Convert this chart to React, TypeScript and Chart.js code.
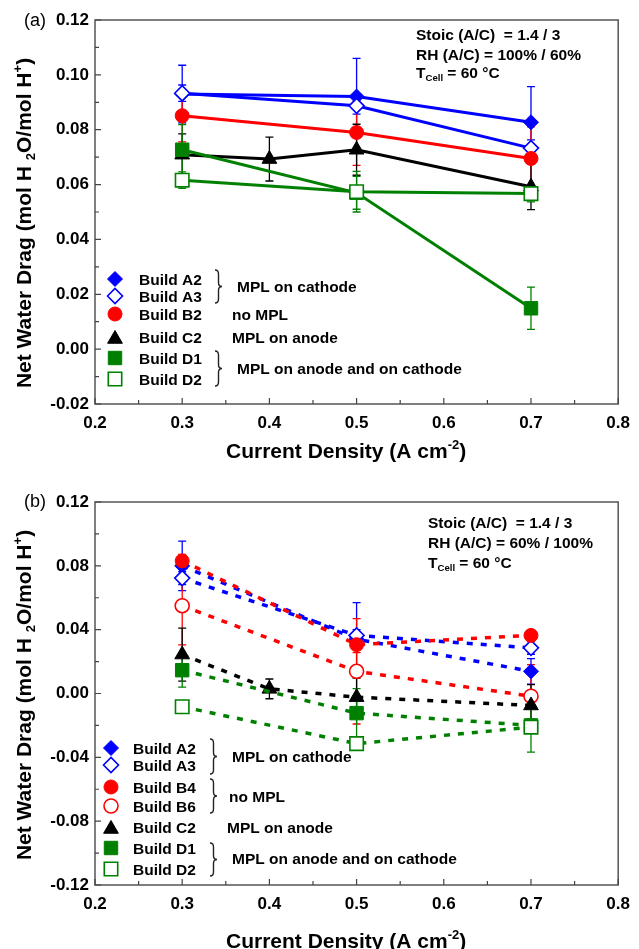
import React, { useEffect, useRef } from "react";
import { Chart, registerables } from "chart.js";
import { drawPoint } from "chart.js/helpers";

Chart.register(...registerables);

const FONT = '"Liberation Sans", Arial, Helvetica, sans-serif';

// ---------------- data: panel (a) ----------------
const xs3 = [0.3, 0.5, 0.7];
const xs4 = [0.3, 0.4, 0.5, 0.7];

const aA2 = [0.093, 0.0921, 0.0827];
const aA2Err = [0.0105, 0.0139, 0.013];
const aA3 = [0.0933, 0.0887, 0.0733];
const aA3Err = [0.003, 0.003, 0.003];
const aB2 = [0.0851, 0.079, 0.0695];
const aB2Err = [0.0095, 0.012, 0.0115];
const aC2 = [0.0709, 0.0693, 0.0727, 0.0592];
const aC2Err = [0.0076, 0.008, 0.0093, 0.0083];
const aD1 = [0.0727, 0.057, 0.0149];
const aD1Err = [0.0092, 0.006, 0.0077];
const aD2 = [0.0616, 0.0574, 0.0567];
const aD2Err = [0.003, 0.0074, 0.003];

// ---------------- data: panel (b) ----------------
const bA2 = [0.08, 0.034, 0.0139];
const bA2Err = [0.0155, 0.006, 0.008];
const bA3 = [0.0723, 0.0364, 0.0286];
const bA3Err = [0.004, 0.0206, 0.004];
const bB4 = [0.0831, 0.0306, 0.0364];
const bB4Err = [0.004, 0.005, 0.003];
const bB6 = [0.055, 0.0139, -0.0017];
const bB6Err = [0.0245, 0.033, 0.0198];
const bC2 = [0.0244, 0.0029, -0.0023, -0.0075];
const bC2Err = [0.0166, 0.0062, 0.012, 0.013];
const bD1 = [0.0146, -0.0123, -0.02];
const bD1Err = [0.0106, 0.0154, 0.004];
const bD2 = [-0.0083, -0.0314, -0.0211];
const bD2Err = [0.003, 0.003, 0.0156];

// axis ranges / ticks
const xRange = [0.2, 0.8];
const xStep = 0.1;
const aYRange = [-0.02, 0.12];
const aYStep = 0.02;
const bYRange = [-0.12, 0.12];
const bYStep = 0.04;

const BLUE = "#0000ff";
const RED = "#ff0000";
const BLACK = "#000000";
const GREEN = "#008000";

type Series = {
  label: string;
  xs: number[];
  ys: number[];
  errs: number[];
  color: string;
  style: string;
  radius: number;
  filled: boolean;
};

const mk = (label: string, xs: number[], ys: number[], errs: number[], color: string, style: string, radius: number, filled: boolean): Series =>
  ({ label, xs, ys, errs, color, style, radius, filled });

const R_DIAMOND = 7.5;
const R_CIRCLE = 7;
const R_TRI = 8.5;
const R_SQUARE = 9.5;

const seriesA: Series[] = [
  mk("Build A2", xs3, aA2, aA2Err, BLUE, "rectRot", R_DIAMOND, true),
  mk("Build A3", xs3, aA3, aA3Err, BLUE, "rectRot", R_DIAMOND, false),
  mk("Build B2", xs3, aB2, aB2Err, RED, "circle", R_CIRCLE, true),
  mk("Build C2", xs4, aC2, aC2Err, BLACK, "triangle", R_TRI, true),
  mk("Build D1", xs3, aD1, aD1Err, GREEN, "rect", R_SQUARE, true),
  mk("Build D2", xs3, aD2, aD2Err, GREEN, "rect", R_SQUARE, false),
];

const seriesB: Series[] = [
  mk("Build A2", xs3, bA2, bA2Err, BLUE, "rectRot", R_DIAMOND, true),
  mk("Build A3", xs3, bA3, bA3Err, BLUE, "rectRot", R_DIAMOND, false),
  mk("Build B4", xs3, bB4, bB4Err, RED, "circle", R_CIRCLE, true),
  mk("Build B6", xs3, bB6, bB6Err, RED, "circle", R_CIRCLE, false),
  mk("Build C2", xs4, bC2, bC2Err, BLACK, "triangle", R_TRI, true),
  mk("Build D1", xs3, bD1, bD1Err, GREEN, "rect", R_SQUARE, true),
  mk("Build D2", xs3, bD2, bD2Err, GREEN, "rect", R_SQUARE, false),
];

type Seg = { t: string; k?: "sub" | "sup" };

type Panel = {
  series: Series[];
  yRange: number[];
  yStep: number;
  height: number;
  padTop: number;
  xHeight: number;
  dash: number[];
  lineWidth: number;
  panelLabel: string;
  labelPos: number[];
  annot: { x: number; ys: number[]; lines: Seg[][] };
  legend: { mx: number; tx: number; rows: number[] };
  braces: number[][];
  groups: { t: string; x: number; y: number }[];
  yTitle: number[];
  xTitle: number[];
};

const yTitleSegs: Seg[] = [
  { t: "Net Water Drag (mol H " },
  { t: "2", k: "sub" },
  { t: "O/mol H" },
  { t: "+", k: "sup" },
  { t: ")" },
];
const xTitleSegs: Seg[] = [{ t: "Current Density (A cm" }, { t: "-2", k: "sup" }, { t: ")" }];

const tcell: Seg[] = [{ t: "T" }, { t: "Cell", k: "sub" }, { t: " = 60 \u00B0C" }];

const panelA: Panel = {
  series: seriesA,
  yRange: aYRange,
  yStep: aYStep,
  height: 470,
  padTop: 20,
  xHeight: 66,
  dash: [],
  lineWidth: 3,
  panelLabel: "(a)",
  labelPos: [24, 21],
  annot: {
    x: 416,
    ys: [34, 54, 72],
    lines: [[{ t: "Stoic (A/C)  = 1.4 / 3" }], [{ t: "RH (A/C) = 100% / 60%" }], tcell],
  },
  legend: { mx: 115, tx: 139, rows: [279, 296, 314, 337, 358, 379] },
  braces: [
    [215, 270, 303],
    [215, 351, 386],
  ],
  groups: [
    { t: "MPL on cathode", x: 237, y: 286 },
    { t: "no MPL", x: 232, y: 314 },
    { t: "MPL on anode", x: 232, y: 337 },
    { t: "MPL on anode and on cathode", x: 237, y: 368 },
  ],
  yTitle: [23, 223],
  xTitle: [226, 450],
};

const panelB: Panel = {
  series: seriesB,
  yRange: bYRange,
  yStep: bYStep,
  height: 479,
  padTop: 32,
  xHeight: 64,
  dash: [6, 8],
  lineWidth: 3.5,
  panelLabel: "(b)",
  labelPos: [24, 32],
  annot: {
    x: 428,
    ys: [52, 72, 92],
    lines: [[{ t: "Stoic (A/C)  = 1.4 / 3" }], [{ t: "RH (A/C) = 60% / 100%" }], tcell],
  },
  legend: { mx: 111, tx: 133, rows: [278, 295, 317, 336, 357, 378, 399] },
  braces: [
    [210, 269, 304],
    [210, 309, 343],
    [210, 373, 406],
  ],
  groups: [
    { t: "MPL on cathode", x: 232, y: 286 },
    { t: "no MPL", x: 229, y: 326 },
    { t: "MPL on anode", x: 227, y: 357 },
    { t: "MPL on anode and on cathode", x: 232, y: 388 },
  ],
  yTitle: [23, 225],
  xTitle: [226, 470],
};

function segFont(size: number, weight: string, k?: string) {
  const fs = k ? size * 0.62 : size;
  return `${weight} ${fs}px ${FONT}`;
}

function richWidth(ctx: CanvasRenderingContext2D, segs: Seg[], size: number, weight: string) {
  let w = 0;
  for (const s of segs) {
    ctx.font = segFont(size, weight, s.k);
    w += ctx.measureText(s.t).width;
  }
  return w;
}

function drawRich(ctx: CanvasRenderingContext2D, segs: Seg[], x: number, base: number, size: number, weight: string, align: "left" | "center") {
  const w = richWidth(ctx, segs, size, weight);
  let cx = align === "center" ? x - w / 2 : x;
  ctx.textAlign = "left";
  ctx.textBaseline = "alphabetic";
  for (const s of segs) {
    ctx.font = segFont(size, weight, s.k);
    const dy = s.k === "sub" ? size * 0.2 : s.k === "sup" ? -size * 0.42 : 0;
    ctx.fillText(s.t, cx, base + dy);
    cx += ctx.measureText(s.t).width;
  }
}

function drawBrace(ctx: CanvasRenderingContext2D, x: number, y1: number, y2: number) {
  const w = 7;
  const h = w * 0.5;
  const m = (y1 + y2) / 2;
  const r = 4;
  ctx.beginPath();
  ctx.moveTo(x, y1);
  ctx.quadraticCurveTo(x + h, y1, x + h, y1 + r);
  ctx.lineTo(x + h, m - r);
  ctx.quadraticCurveTo(x + h, m, x + w, m);
  ctx.quadraticCurveTo(x + h, m, x + h, m + r);
  ctx.lineTo(x + h, y2 - r);
  ctx.quadraticCurveTo(x + h, y2, x, y2);
  ctx.stroke();
}

function makeChart(canvas: HTMLCanvasElement, P: Panel) {
  const N = P.series.length;
  const datasets = P.series.map((s, i) => ({
    label: s.label,
    data: s.xs.map((x, j) => ({ x, y: s.ys[j] })),
    showLine: true,
    borderColor: s.color,
    backgroundColor: s.color,
    borderWidth: P.lineWidth,
    borderDash: P.dash,
    borderCapStyle: "butt",
    pointStyle: s.style,
    pointRadius: s.radius,
    pointHoverRadius: s.radius,
    pointBackgroundColor: s.filled ? s.color : "#ffffff",
    pointBorderColor: s.color,
    pointBorderWidth: s.filled ? 1 : 1.6,
    tension: 0,
    order: N - i,
    clip: false,
  }));

  const errPlugin = {
    id: "errBars",
    beforeDatasetsDraw(chart: any) {
      const { ctx, scales } = chart;
      const xs = scales.x;
      const ys = scales.y;
      ctx.save();
      ctx.setLineDash([]);
      ctx.lineWidth = 1.3;
      P.series.forEach((s) => {
        ctx.strokeStyle = s.color;
        s.xs.forEach((xv, j) => {
          const e = s.errs[j];
          if (!e) return;
          const px = xs.getPixelForValue(xv);
          const yt = ys.getPixelForValue(s.ys[j] + e);
          const yb = ys.getPixelForValue(s.ys[j] - e);
          ctx.beginPath();
          ctx.moveTo(px, yt);
          ctx.lineTo(px, yb);
          ctx.moveTo(px - 4, yt);
          ctx.lineTo(px + 4, yt);
          ctx.moveTo(px - 4, yb);
          ctx.lineTo(px + 4, yb);
          ctx.stroke();
        });
      });
      ctx.restore();
    },
  };

  const framePlugin = {
    id: "frame",
    afterDatasetsDraw(chart: any) {
      const { ctx, chartArea: a, scales } = chart;
      const xs = scales.x;
      const ys = scales.y;
      ctx.save();
      ctx.setLineDash([]);
      ctx.strokeStyle = "#555555";
      ctx.lineWidth = 1.5;
      ctx.strokeRect(a.left, a.top, a.right - a.left, a.bottom - a.top);
      ctx.lineWidth = 1.2;
      ctx.strokeStyle = "#444444";
      ctx.beginPath();
      const nY = Math.round((P.yRange[1] - P.yRange[0]) / P.yStep);
      for (let i = 0; i <= nY * 2; i++) {
        const v = P.yRange[0] + (i * P.yStep) / 2;
        const py = ys.getPixelForValue(v);
        const len = i % 2 === 0 ? 6 : 4;
        ctx.moveTo(a.left, py);
        ctx.lineTo(a.left + len, py);
      }
      const nX = Math.round((xRange[1] - xRange[0]) / xStep);
      for (let i = 0; i <= nX * 2; i++) {
        const v = xRange[0] + (i * xStep) / 2;
        const px = xs.getPixelForValue(v);
        const len = i % 2 === 0 ? 6 : 4;
        ctx.moveTo(px, a.bottom);
        ctx.lineTo(px, a.bottom - len);
      }
      ctx.stroke();
      ctx.restore();
    },
  };

  const textPlugin = {
    id: "texts",
    afterDraw(chart: any) {
      const ctx: CanvasRenderingContext2D = chart.ctx;
      ctx.save();
      ctx.fillStyle = "#000";
      ctx.setLineDash([]);

      // panel label
      ctx.font = `normal 18px ${FONT}`;
      ctx.textAlign = "left";
      ctx.textBaseline = "middle";
      ctx.fillText(P.panelLabel, P.labelPos[0], P.labelPos[1]);

      // annotation
      const as = 15.5;
      P.annot.lines.forEach((segs, i) => {
        drawRich(ctx, segs, P.annot.x, P.annot.ys[i] + as * 0.36, as, "bold", "left");
      });

      // legend markers + labels
      const ls = 15.5;
      P.series.forEach((s, i) => {
        const y = P.legend.rows[i];
        ctx.fillStyle = s.filled ? s.color : "#ffffff";
        ctx.strokeStyle = s.color;
        ctx.lineWidth = s.filled ? 1 : 1.6;
        const my = s.style === "triangle" ? y + 2 : y;
        drawPoint(ctx, { pointStyle: s.style, radius: s.radius, rotation: 0, borderWidth: ctx.lineWidth } as any, P.legend.mx, my);
        ctx.fillStyle = "#000";
        ctx.font = `bold ${ls}px ${FONT}`;
        ctx.textAlign = "left";
        ctx.textBaseline = "alphabetic";
        ctx.fillText(s.label, P.legend.tx, y + ls * 0.36);
      });

      // braces
      ctx.strokeStyle = "#222";
      ctx.lineWidth = 1.4;
      P.braces.forEach((b) => drawBrace(ctx, b[0], b[1], b[2]));

      // group labels
      ctx.fillStyle = "#000";
      ctx.font = `bold ${ls}px ${FONT}`;
      ctx.textAlign = "left";
      ctx.textBaseline = "alphabetic";
      P.groups.forEach((g) => ctx.fillText(g.t, g.x, g.y + ls * 0.36));

      // x title
      const ts = 21;
      drawRich(ctx, xTitleSegs, P.xTitle[0], P.xTitle[1] + ts * 0.36, ts, "bold", "left");

      // y title
      ctx.save();
      ctx.translate(P.yTitle[0], P.yTitle[1]);
      ctx.rotate(-Math.PI / 2);
      drawRich(ctx, yTitleSegs, 0, ts * 0.36, ts, "bold", "center");
      ctx.restore();

      ctx.restore();
    },
  };

  const tickFont = { family: FONT, size: 17, weight: "bold" as const };

  return new Chart(canvas, {
    type: "scatter",
    data: { datasets: datasets as any },
    options: {
      animation: false,
      responsive: false,
      devicePixelRatio: 1,
      layout: { padding: { top: P.padTop, right: 16, left: 0, bottom: 0 } },
      plugins: { legend: { display: false }, tooltip: { enabled: false } },
      events: [],
      scales: {
        x: {
          type: "linear",
          min: xRange[0],
          max: xRange[1],
          afterFit: (s: any) => {
            s.height = P.xHeight;
          },
          grid: { display: false, drawTicks: false },
          border: { display: false },
          ticks: {
            stepSize: xStep,
            padding: 9,
            color: "#000",
            font: tickFont,
            maxRotation: 0,
            autoSkip: false,
            callback: (v: any) => Number(v).toFixed(1),
          },
        },
        y: {
          type: "linear",
          min: P.yRange[0],
          max: P.yRange[1],
          afterFit: (s: any) => {
            s.width = 95;
          },
          grid: { display: false, drawTicks: false },
          border: { display: false },
          ticks: {
            stepSize: P.yStep,
            padding: 6,
            color: "#000",
            font: tickFont,
            autoSkip: false,
            callback: (v: any) => (Math.abs(Number(v)) < 1e-9 ? "0.00" : Number(v).toFixed(2)),
          },
        },
      },
    } as any,
    plugins: [errPlugin, framePlugin, textPlugin],
  });
}

function Panel({ cfg, top }: { cfg: Panel; top: number }) {
  const ref = useRef<HTMLCanvasElement | null>(null);
  useEffect(() => {
    if (!ref.current) return;
    const ch = makeChart(ref.current, cfg);
    return () => ch.destroy();
  }, [cfg]);
  return (
    <div style={{ position: "absolute", left: 0, top, width: 639, height: cfg.height }}>
      <canvas ref={ref} width={639} height={cfg.height} style={{ display: "block", width: 639, height: cfg.height }} />
    </div>
  );
}

export default function App() {
  return (
    <div style={{ position: "absolute", left: 0, top: 0, width: 639, height: 949, background: "#fff", overflow: "hidden" }}>
      <Panel cfg={panelA} top={0} />
      <Panel cfg={panelB} top={470} />
    </div>
  );
}
